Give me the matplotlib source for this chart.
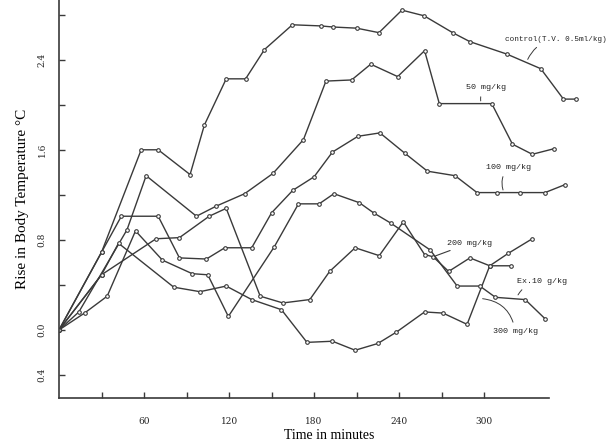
import matplotlib
matplotlib.use("Agg")
import matplotlib.pyplot as plt

# time (min) and rise in body temperature (deg C)
t_control = [0, 30, 58, 70, 92.5, 102.6, 118, 131.7, 145, 164.7, 184.6, 193.6, 210,
             225.8, 242, 257.6, 277.8, 290, 316, 340, 356, 365]
y_control = [0, 0.69, 1.60, 1.60, 1.38, 1.82, 2.23, 2.23, 2.49, 2.71, 2.70, 2.69, 2.68,
             2.64, 2.84, 2.79, 2.64, 2.56, 2.45, 2.32, 2.05, 2.05]

t_50 = [0, 14, 48, 61.5, 97, 111, 131, 151, 172.5, 188.4, 206.5, 220, 239, 258,
        268.4, 305.4, 320, 334, 349.5]
y_50 = [0, 0.16, 0.89, 1.37, 1.01, 1.10, 1.21, 1.39, 1.69, 2.21, 2.22, 2.36, 2.25, 2.48,
        2.01, 2.01, 1.65, 1.56, 1.61]

t_100 = [0, 30, 44, 70, 85, 104, 117, 136, 150, 165, 180, 193, 211, 226.5, 244, 260,
         279.5, 295, 309, 325, 343, 357]
y_100 = [0, 0.69, 1.01, 1.01, 0.64, 0.63, 0.73, 0.73, 1.04, 1.24, 1.36, 1.58, 1.72, 1.75,
         1.57, 1.41, 1.37, 1.22, 1.22, 1.22, 1.22, 1.29]

t_200 = [0, 30, 68.5, 85, 106, 118, 142, 158, 177, 191, 209, 226, 243, 258, 264, 275,
         290, 304, 317, 334]
y_200 = [0, 0.49, 0.81, 0.82, 1.01, 1.08, 0.30, 0.24, 0.27, 0.52, 0.73, 0.66, 0.96, 0.67,
         0.65, 0.52, 0.64, 0.57, 0.68, 0.81]

t_300 = [0, 30, 42, 81, 99.5, 118, 136, 157, 175, 193, 209, 225, 238, 258, 271, 288,
         304, 319]
y_300 = [0, 0.49, 0.77, 0.38, 0.34, 0.39, 0.27, 0.18, -0.11, -0.10, -0.18, -0.12, -0.02,
         0.16, 0.15, 0.05, 0.57, 0.57]

t_ex = [0, 18, 34, 54, 73, 94, 105, 119.5, 152, 169, 183.6, 194, 212, 222, 234, 262,
        281, 297, 308, 329, 343]
y_ex = [0, 0.15, 0.30, 0.88, 0.62, 0.50, 0.49, 0.12, 0.74, 1.12, 1.12, 1.21, 1.13, 1.04,
        0.95, 0.71, 0.39, 0.39, 0.29, 0.27, 0.10]

x_ticks = [30, 60, 90, 120, 150, 180, 210, 240, 270, 300]
x_labels = ["", "60", "", "120", "", "180", "", "240", "", "300"]
y_ticks = [-0.4, 0.0, 0.4, 0.8, 1.2, 1.6, 2.0, 2.4, 2.8]
y_labels = ["0.4", "0.0", "", "0.8", "", "1.6", "", "2.4", ""]

ink = "#3a3a3a"
fig = plt.figure(figsize=(6.12, 4.45), dpi=100)
ax = fig.add_axes([59 / 612, 47 / 445, 541 / 612, 398 / 445])

series = [(t_control, y_control), (t_50, y_50), (t_100, y_100),
          (t_200, y_200), (t_300, y_300), (t_ex, y_ex)]
for t, y in series:
    ax.plot(t, y, color=ink, lw=1.0, marker="o", ms=2.6, mfc="white",
            mec=ink, mew=0.8)

ax.set_xlim(0, 381.8)
ax.set_ylim(-0.604, 2.93)
for s in ["top", "right"]:
    ax.spines[s].set_visible(False)
ax.spines["bottom"].set_bounds(0, 346)
for s in ["left", "bottom"]:
    ax.spines[s].set_color(ink)
    ax.spines[s].set_linewidth(1.2)

ax.set_xticks(x_ticks)
ax.set_xticklabels(x_labels, fontsize=6.5, family="DejaVu Serif")
ax.set_yticks(y_ticks)
ax.set_yticklabels(y_labels, fontsize=6.5, family="DejaVu Serif", rotation=90,
                   va="center")
ax.tick_params(direction="in", length=4, width=1, color=ink, labelcolor="#222222")
ax.tick_params(axis="x", pad=14)
ax.tick_params(axis="y", pad=9)

ax.set_xlabel("Time in minutes", fontsize=10, family="Liberation Serif", labelpad=2)
ax.set_ylabel("Rise in Body Temperature °C", fontsize=11, family="Liberation Serif",
              labelpad=6)

mono = dict(fontsize=6, family="Liberation Mono", color="#222222")
arrow = dict(arrowstyle="-", color=ink, lw=0.7, connectionstyle="arc3,rad=0.3")
ax.annotate("control(T.V. 0.5ml/kg)", xy=(330, 2.38), xytext=(315, 2.58),
            va="center", arrowprops=arrow, fontsize=5.5, family="Liberation Mono",
            color="#222222")
ax.annotate("50 mg/kg", xy=(298, 2.01), xytext=(287, 2.15),
            va="center", arrowprops=arrow, **mono)
ax.annotate("100 mg/kg", xy=(314, 1.22), xytext=(301, 1.44),
            va="center", arrowprops=arrow, **mono)
ax.annotate("200 mg/kg", xy=(264, 0.65), xytext=(274, 0.77),
            va="center", arrowprops=dict(arrowstyle="-", color=ink, lw=0.8), **mono)
ax.annotate("Ex.10 g/kg", xy=(323, 0.29), xytext=(323, 0.43),
            va="center", arrowprops=arrow, **mono)
ax.annotate("300 mg/kg", xy=(297, 0.28), xytext=(306, -0.01),
            va="center", arrowprops=dict(arrowstyle="-", color=ink, lw=0.7,
                                         connectionstyle="arc3,rad=0.4"), **mono)

fig.savefig("out.png", dpi=100)
